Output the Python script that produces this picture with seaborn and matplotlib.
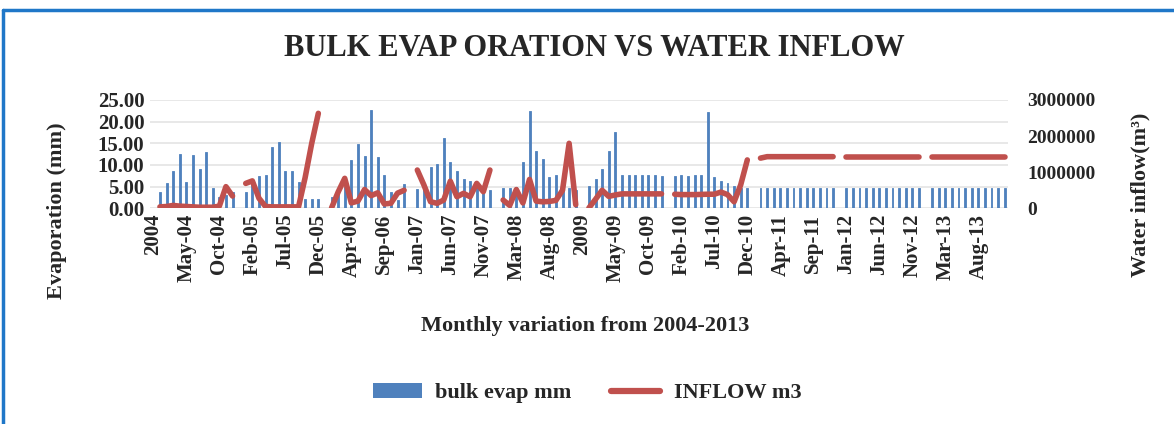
import pandas as pd
import matplotlib
matplotlib.use("Agg")
import matplotlib.pyplot as plt
from matplotlib.lines import Line2D
from matplotlib.patches import Patch
import seaborn as sns

# data: 2004-2013, one slot per month plus an empty year-header slot
years = [2004, 2005, 2006, 2007, 2008, 2009, 2010, 2011, 2012, 2013]

evap_mm = [
    3.7, 5.8, 8.5, 12.5, 6.0, 12.3, 9.1, 12.9, 4.6, 2.5, 3.0, 3.8,
    3.7, 5.5, 7.5, 7.8, 14.1, 15.2, 8.7, 8.5, 6.0, 2.2, 2.2, 2.2,
    2.7, 4.2, 5.0, 11.1, 14.9, 12.0, 22.7, 11.8, 7.7, 3.7, 1.9, 5.5,
    4.5, 5.2, 9.6, 10.2, 16.2, 10.8, 8.7, 6.7, 6.4, 6.0, 5.0, 4.2,
    4.8, 4.8, 5.0, 10.8, 22.5, 13.2, 11.4, 7.3, 7.6, 6.5, 4.6, 4.2,
    5.2, 6.7, 9.1, 13.2, 17.7, 7.8, 7.8, 7.8, 7.8, 7.8, 7.7, 7.5,
    7.5, 7.8, 7.5, 7.8, 7.8, 22.3, 7.2, 6.3, 5.8, 5.2, 4.6, 4.6,
    4.6, 4.6, 4.6, 4.6, 4.6, 4.6, 4.6, 4.6, 4.6, 4.6, 4.6, 4.6,
    4.6, 4.6, 4.6, 4.6, 4.6, 4.6, 4.6, 4.6, 4.6, 4.6, 4.6, 4.6,
    4.6, 4.6, 4.6, 4.6, 4.6, 4.6, 4.6, 4.6, 4.6, 4.6, 4.6, 4.6,
]

inflow_m3 = [
    40000, 50000, 80000, 60000, 50000, 40000, 30000, 30000, 30000, 60000, 600000, 340000,
    690000, 760000, 280000, 50000, 40000, 40000, 40000, 40000, 40000, 850000, 1800000, 2630000,
    10000, 450000, 830000, 150000, 200000, 520000, 350000, 430000, 120000, 140000, 420000, 500000,
    1060000, 645000, 183000, 138000, 230000, 750000, 320000, 415000, 320000, 690000, 460000, 1060000,
    230000, 80000, 520000, 150000, 800000, 200000, 180000, 190000, 220000, 500000, 1800000, 100000,
    10000, 250000, 500000, 330000, 370000, 400000, 400000, 400000, 400000, 400000, 400000, 400000,
    390000, 380000, 380000, 380000, 385000, 390000, 390000, 450000, 380000, 180000, 650000, 1340000,
    1390000, 1430000, 1430000, 1430000, 1430000, 1430000, 1430000, 1430000, 1430000, 1430000, 1430000, 1430000,
    1430000, 1430000, 1430000, 1430000, 1430000, 1430000, 1430000, 1430000, 1430000, 1430000, 1430000, 1430000,
    1430000, 1430000, 1430000, 1430000, 1430000, 1430000, 1430000, 1430000, 1430000, 1430000, 1430000, 1430000,
]

tick_labels = ["2004", "May-04", "Oct-04", "Feb-05", "Jul-05", "Dec-05", "Apr-06",
               "Sep-06", "Jan-07", "Jun-07", "Nov-07", "Mar-08", "Aug-08", "2009",
               "May-09", "Oct-09", "Feb-10", "Jul-10", "Dec-10", "Apr-11", "Sep-11",
               "Jan-12", "Jun-12", "Nov-12", "Mar-13", "Aug-13"]

# build table: year header slot then 12 month slots
rows = []
for i, yr in enumerate(years):
    for m in range(12):
        rows.append({"pos": i * 13 + m + 1, "year": yr,
                     "evap": evap_mm[i * 12 + m], "inflow": inflow_m3[i * 12 + m]})
df = pd.DataFrame(rows)

sns.set_style("white")
plt.rcParams["font.family"] = ["Liberation Serif", "DejaVu Serif"]
plt.rcParams["font.weight"] = "bold"

blue = "#4F81BD"
red = "#C0504D"

fig = plt.figure(figsize=(11.74, 4.24), dpi=100)
ax = fig.add_axes([0.1278, 0.5087, 0.7308, 0.2555])

sns.barplot(data=df, x="pos", y="evap", native_scale=True, color=blue,
            saturation=1, width=0.3, errorbar=None, ax=ax, zorder=2,
            edgecolor=blue, linewidth=0.6)
ax.set_xlim(-0.5, 129.5)
ax.set_ylim(0, 25)
ax.set_yticks([0, 5, 10, 15, 20, 25])
ax.set_yticklabels([f"{v:.2f}" for v in [0, 5, 10, 15, 20, 25]],
                   fontsize=15, fontweight="bold")
ax.set_xticks(range(0, 130, 5))
ax.set_xticklabels(tick_labels, rotation=90, fontsize=15, fontweight="bold")
ax.grid(axis="y", color="#E4E4E4", linewidth=1.2)
ax.set_axisbelow(True)
ax.tick_params(length=0, pad=4)
ax.set_xlabel("")
ax.set_ylabel("")
for s in ax.spines.values():
    s.set_visible(False)

ax2 = ax.twinx()
sns.lineplot(data=df, x="pos", y="inflow", units="year", estimator=None,
             color=red, linewidth=4, ax=ax2, legend=False)
for ln in ax2.lines:
    ln.set_solid_capstyle("round")
    ln.set_solid_joinstyle("round")
ax2.set_ylim(0, 3000000)
ax2.set_yticks([0, 1000000, 2000000, 3000000])
ax2.set_yticklabels(["0", "1000000", "2000000", "3000000"],
                    fontsize=14, fontweight="bold")
ax2.tick_params(length=0, pad=14)
ax2.set_ylabel("")
ax2.set_xlabel("")
for s in ax2.spines.values():
    s.set_visible(False)

fig.text(0.506, 1 - 48 / 424, "BULK EVAP ORATION VS WATER INFLOW",
         ha="center", va="center", fontsize=22, fontweight="bold")
fig.text(585 / 1174, 1 - 326 / 424, "Monthly variation from 2004-2013",
         ha="center", va="center", fontsize=16, fontweight="bold")
fig.text(57 / 1174, 1 - 211 / 424, "Evaporation (mm)", rotation=90,
         ha="center", va="center", fontsize=16, fontweight="bold")
fig.text(1140 / 1174, 1 - 195 / 424, "Water inflow(m³)", rotation=90,
         ha="center", va="center", fontsize=16, fontweight="bold")

handles = [Patch(facecolor=blue, edgecolor="none"),
           Line2D([0], [0], color=red, linewidth=4.5)]
fig.legend(handles, ["bulk evap mm", "INFLOW m3"], loc="center",
           bbox_to_anchor=(0.5, 1 - 393 / 424), ncol=2, frameon=False,
           prop={"family": "Liberation Serif", "weight": "bold", "size": 16},
           handlelength=2.2, handletextpad=0.6, columnspacing=1.8)

# chart frame (top and left edge visible)
fig.add_artist(Line2D([3 / 1174, 3 / 1174], [0, 1 - 10 / 424],
                      transform=fig.transFigure, color="#1F77C8", linewidth=2.5))
fig.add_artist(Line2D([3 / 1174, 1], [1 - 10 / 424, 1 - 10 / 424],
                      transform=fig.transFigure, color="#1F77C8", linewidth=2.5))

fig.savefig("out.png", dpi=100)
